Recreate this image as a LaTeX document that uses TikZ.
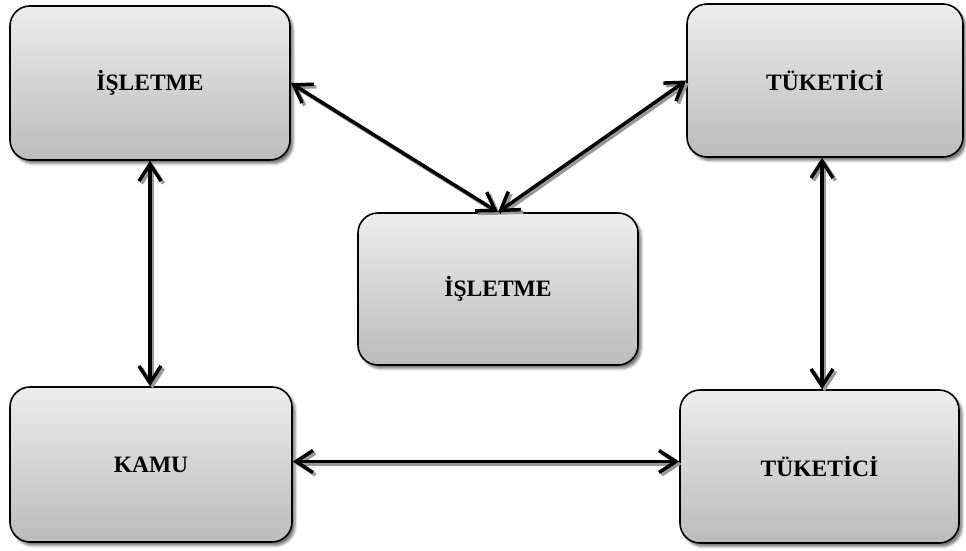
\documentclass[tikz,border=0pt]{standalone}
\usepackage{fontspec}
\setmainfont{Liberation Serif}
\usetikzlibrary{arrows.meta,shadows.blur}

\tikzset{
  box/.style={
    draw=black, line width=1.6pt, rounded corners=20pt,
    top color=boxtop, bottom color=boxbottom,
    minimum width=280pt, minimum height=153pt,
    inner sep=0pt, align=center,
    font=\fontsize{23.5}{27}\selectfont\bfseries,
    blur shadow={shadow xshift=3pt, shadow yshift=-3.5pt,
                 shadow blur radius=2.5pt, shadow opacity=55}
  },
  barb/.tip={Straight Barb[length=17pt,width=22pt,line width=3.5pt]},
  link/.style={
    line width=3.5pt, black, barb-barb,
    preaction={draw=black!40, line width=3.5pt,
               transform canvas={shift={(2.5,2.5)}}}
  }
}
\definecolor{boxtop}{HTML}{EDEDED}
\definecolor{boxbottom}{HTML}{BBBBBB}

\begin{document}
\begin{tikzpicture}[x=1pt,y=-1pt]
  \useasboundingbox (0,0) rectangle (966,551);

  % the five boxes
  \node[box, minimum width=280pt, minimum height=154pt] (isl1) at (150,83)    {İŞLETME};
  \node[box, minimum width=276pt]                       (tuk1) at (825,80.5)  {TÜKETİCİ};
  \node[box, minimum height=152pt]                      (isl2) at (498,289)   {İŞLETME};
  \node[box, minimum width=282pt, minimum height=155pt] (kamu) at (151,464.5) {KAMU};
  \node[box, minimum width=279pt]                       (tuk2) at (819.5,466.5) {TÜKETİCİ};

  % two-way links
  \draw[link] (isl1.east) -- (isl2.north);
  \draw[link] (isl2.north) -- (tuk1.west);
  \draw[link] (isl1.south) -- (isl1.south |- kamu.north);
  \draw[link] ([xshift=-3pt]tuk1.south) -- ([xshift=-3pt]tuk1.south |- tuk2.north);
  \draw[link] ([yshift=3pt]kamu.east) -- ([yshift=3pt]kamu.east -| tuk2.west);
\end{tikzpicture}
\end{document}
